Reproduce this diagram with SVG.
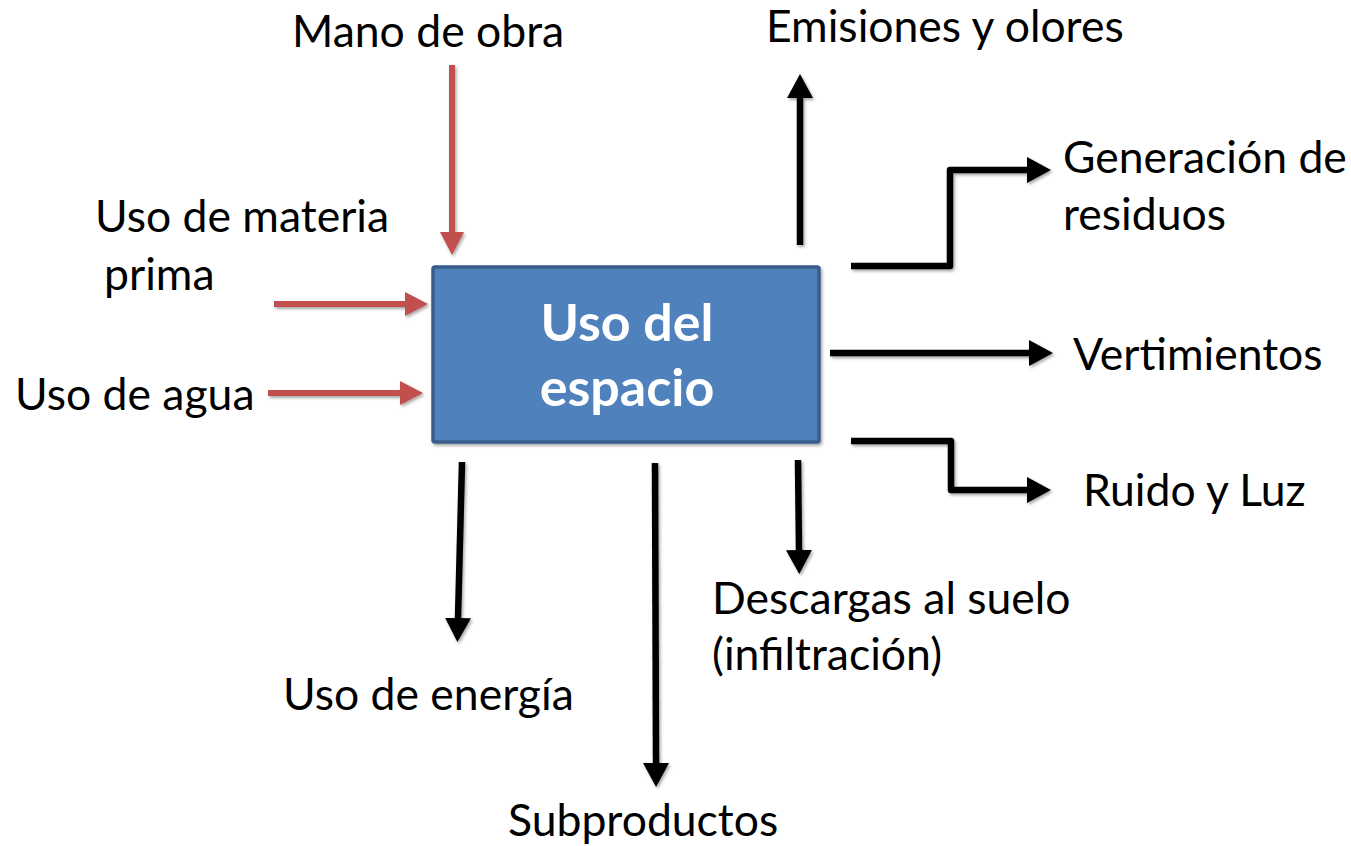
<svg xmlns="http://www.w3.org/2000/svg" width="1351" height="846" viewBox="0 0 1351 846">
<style>
text{font-family:Lato,"Open Sans","Liberation Sans",sans-serif;fill:#000;font-size:44.5px}
.t{font-size:52px;font-weight:bold;fill:#fff;text-anchor:middle}
.r{stroke:#C0504D;stroke-width:6;fill:none}
.k{stroke:#000;stroke-width:6.5;fill:none;stroke-linejoin:round}
</style>
<defs>
<filter id="sh" x="-20%" y="-20%" width="140%" height="140%">
<feDropShadow dx="1.5" dy="2" stdDeviation="1.5" flood-color="#000" flood-opacity="0.35"/>
</filter>
<marker id="ar" markerUnits="userSpaceOnUse" markerWidth="24" markerHeight="24" refX="0" refY="12" orient="auto">
<path d="M0,0 L23,12 L0,24 z" fill="#C0504D"/>
</marker>
<marker id="ak" markerUnits="userSpaceOnUse" markerWidth="25" markerHeight="26" refX="0" refY="13" orient="auto">
<path d="M0,0 L24,13 L0,26 z" fill="#000"/>
</marker>
</defs>
<g id="connectors" filter="url(#sh)">
<path class="r" d="M452,65 V232" marker-end="url(#ar)"/>
<path class="r" d="M274,304 H405" marker-end="url(#ar)"/>
<path class="r" d="M268,393 H400" marker-end="url(#ar)"/>
<path class="k" d="M800,245 V98" marker-end="url(#ak)"/>
<path class="k" d="M851,266 H950 V170 H1027" marker-end="url(#ak)"/>
<path class="k" d="M830,353 H1029" marker-end="url(#ak)"/>
<path class="k" d="M851,441 H951 V490 H1027" marker-end="url(#ak)"/>
<path class="k" d="M798,460 L799,550" marker-end="url(#ak)"/>
<path class="k" d="M462,462 L458,618" marker-end="url(#ak)"/>
<path class="k" d="M655,463 L656,763" marker-end="url(#ak)"/>
</g>
<g id="node-uso-espacio">
<rect x="433" y="267" width="386" height="175" rx="2" fill="#4F81BD" stroke="#385D8A" stroke-width="3.5" filter="url(#sh)"/>
<text class="t" x="627" y="341">Uso del</text>
<text class="t" x="627" y="406">espacio</text>
</g>
<g id="label-mano"><text x="292" y="47">Mano de obra</text></g>
<g id="label-emisiones"><text x="766" y="42">Emisiones y olores</text></g>
<g id="label-generacion"><text x="1063" y="173">Generación de</text><text x="1063" y="230">residuos</text></g>
<g id="label-materia"><text x="95" y="232">Uso de materia</text><text x="104" y="290">prima</text></g>
<g id="label-agua"><text x="15" y="410">Uso de agua</text></g>
<g id="label-vertimientos"><text x="1073" y="370">Vertimientos</text></g>
<g id="label-ruido"><text x="1083" y="506">Ruido y Luz</text></g>
<g id="label-descargas"><text x="712" y="614">Descargas al suelo</text><text x="712" y="670">(infiltración)</text></g>
<g id="label-energia"><text x="283" y="710">Uso de energía</text></g>
<g id="label-subproductos"><text x="508" y="836">Subproductos</text></g>
</svg>
